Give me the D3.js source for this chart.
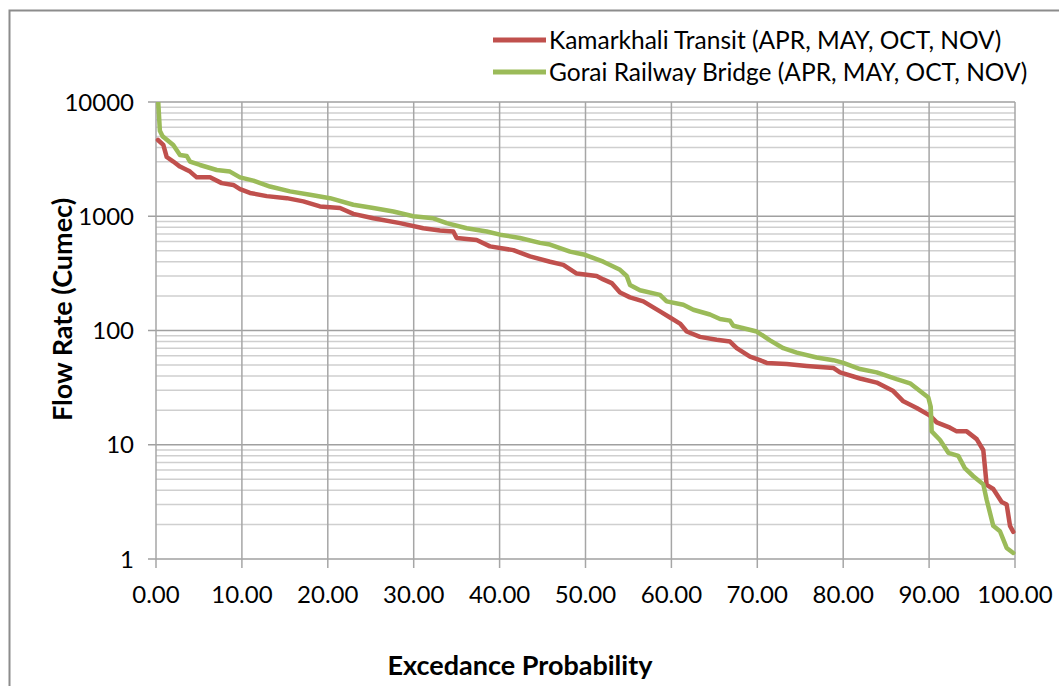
<!DOCTYPE html>
<html lang="en">
<head>
<meta charset="UTF-8">
<title>Flow Duration Curve</title>
<style>
    body { margin: 0; background: #fff; }
    text { font-family: Lato, "Open Sans", sans-serif; fill: #000; }
    .tick-label { font-size: 24px; }
    .axis-title { font-size: 27px; font-weight: bold; }
    .legend { font-size: 24.5px; }
</style>
<script src="https://d3js.org/d3.v7.min.js"></script>
</head>
<body>
<div id="chart"></div>
<script>
const seriesNames = [
    "Kamarkhali Transit (APR, MAY, OCT, NOV)",
    "Gorai Railway Bridge (APR, MAY, OCT, NOV)"
];
const seriesColors = ["#c0504d", "#9bbb59"];

// exceedance probability (%) and flow rate (cumec)
const kamarkhaliX = [0.23, 0.85, 1.25, 2.01, 2.79, 3.96, 4.74, 6.29, 7.65, 9.0, 9.78, 10.94, 12.89, 15.22, 17.15, 19.09, 21.42, 22.97, 25.3, 28.4, 31.12, 33.06, 34.61, 35.0, 37.33, 38.88, 41.6, 43.54, 45.87, 47.42, 48.98, 51.3, 52.07, 53.05, 54.02, 55.18, 56.73, 58.67, 59.84, 61.0, 61.78, 63.33, 65.27, 66.82, 67.6, 69.15, 70.31, 71.09, 73.42, 75.75, 78.85, 79.63, 81.96, 83.9, 85.83, 87.0, 88.56, 90.1, 90.88, 92.43, 93.21, 94.38, 95.54, 96.31, 96.7, 97.47, 98.45, 99.03, 99.42, 99.8];
const kamarkhaliY = [4650, 4210, 3300, 3010, 2720, 2460, 2190, 2190, 1950, 1880, 1730, 1600, 1500, 1440, 1350, 1220, 1180, 1050, 960, 870, 785, 750, 735, 645, 620, 545, 505, 445, 400, 375, 315, 300, 280, 260, 215, 195, 180, 147, 130, 115, 98, 88, 83, 80, 70, 59, 55, 52, 51, 49, 47, 43, 38, 35, 29.5, 24, 21, 18, 15.7, 14.1, 13.1, 13.1, 11.2, 8.95, 4.45, 4.1, 3.15, 3.0, 1.95, 1.73];

const goraiX = [0.2, 0.45, 0.78, 1.05, 2.01, 2.79, 3.57, 3.96, 5.12, 7.07, 8.61, 9.78, 11.33, 13.27, 15.6, 17.93, 20.26, 22.97, 25.3, 27.63, 29.95, 32.28, 33.84, 36.17, 38.5, 40.05, 42.37, 44.7, 45.87, 48.2, 49.94, 52.07, 54.02, 54.8, 55.18, 56.34, 58.67, 59.45, 61.39, 62.55, 64.49, 65.66, 66.82, 67.21, 69.93, 71.48, 73.03, 74.59, 76.91, 78.85, 80.01, 81.96, 83.9, 86.22, 87.78, 88.94, 89.91, 90.19, 90.3, 91.27, 92.24, 93.4, 94.18, 95.15, 96.31, 96.7, 97.47, 98.25, 99.03, 99.8];
const goraiY = [12000, 5600, 5000, 4820, 4200, 3440, 3370, 3010, 2810, 2540, 2460, 2190, 2050, 1820, 1650, 1540, 1440, 1260, 1180, 1100, 1000, 960, 870, 785, 735, 690, 645, 585, 565, 490, 460, 400, 340, 300, 250, 225, 205, 180, 168, 152, 138, 126, 122, 110, 98, 82, 70, 64, 58, 55, 52, 46, 43, 37.5, 34.5, 29.5, 25.9, 21.5, 13.1, 11.0, 8.5, 8.0, 6.2, 5.3, 4.5, 3.3, 1.95, 1.75, 1.25, 1.13];

const xTicks = [0, 10, 20, 30, 40, 50, 60, 70, 80, 90, 100];
const yTicks = [1, 10, 100, 1000, 10000];

const width = 1059, height = 686;
const margin = { top: 102, right: 44, bottom: 127, left: 156 };
const plotW = width - margin.left - margin.right;
const plotH = height - margin.top - margin.bottom;

const svg = d3.select("#chart").append("svg")
    .attr("width", width)
    .attr("height", height);

// chart frame
svg.append("rect")
    .attr("x", 9.5).attr("y", 10.5)
    .attr("width", 1100).attr("height", 800)
    .attr("fill", "none")
    .attr("stroke", "#8c8c8c")
    .attr("stroke-width", 2);

const x = d3.scaleLinear().domain([0, 100]).range([0, plotW]);
const y = d3.scaleLog().domain([1, 10000]).range([plotH, 0]);

const g = svg.append("g").attr("transform", `translate(${margin.left},${margin.top})`);

// minor horizontal grid
const minor = [];
yTicks.slice(0, -1).forEach(d => { for (let k = 2; k <= 9; k++) minor.push(d * k); });
g.selectAll(".minor").data(minor).join("line")
    .attr("x1", 0).attr("x2", plotW)
    .attr("y1", d => y(d)).attr("y2", d => y(d))
    .attr("stroke", "#cfcfcf").attr("stroke-width", 1.5);

// major horizontal grid
g.selectAll(".hmajor").data(yTicks).join("line")
    .attr("x1", -8).attr("x2", plotW)
    .attr("y1", d => y(d)).attr("y2", d => y(d))
    .attr("stroke", "#a0a0a0").attr("stroke-width", 1.5);

// vertical grid
g.selectAll(".vmajor").data(xTicks).join("line")
    .attr("x1", d => x(d)).attr("x2", d => x(d))
    .attr("y1", 0).attr("y2", plotH + 9)
    .attr("stroke", "#a6a6a6").attr("stroke-width", 1.5);

// tick labels
g.selectAll(".ylab").data(yTicks).join("text")
    .attr("class", "tick-label")
    .attr("x", -22).attr("y", d => y(d))
    .attr("dy", "0.36em")
    .attr("text-anchor", "end")
    .text(d => d);

g.selectAll(".xlab").data(xTicks).join("text")
    .attr("class", "tick-label")
    .attr("x", d => x(d)).attr("y", plotH + 44)
    .attr("text-anchor", "middle")
    .text(d => d.toFixed(2));

// axis titles
svg.append("text")
    .attr("class", "axis-title")
    .attr("transform", `translate(72,${margin.top + plotH / 2 - 21}) rotate(-90)`)
    .attr("text-anchor", "middle")
    .text("Flow Rate (Cumec)");

svg.append("text")
    .attr("class", "axis-title")
    .attr("x", 520).attr("y", 675)
    .attr("text-anchor", "middle")
    .text("Excedance Probability");

// series
const series = [
    kamarkhaliX.map((d, i) => [d, kamarkhaliY[i]]),
    goraiX.map((d, i) => [d, goraiY[i]])
];

svg.append("clipPath").attr("id", "clip")
    .append("rect").attr("width", plotW + 10).attr("height", plotH + 10).attr("x", -5).attr("y", 0);

const line = d3.line().x(d => x(d[0])).y(d => y(d[1]));

g.append("g").attr("clip-path", "url(#clip)")
    .selectAll("path").data(series).join("path")
    .attr("d", line)
    .attr("fill", "none")
    .attr("stroke", (d, i) => seriesColors[i])
    .attr("stroke-width", 4.5)
    .attr("stroke-linejoin", "round")
    .attr("stroke-linecap", "round");

// legend
const legend = svg.append("g").attr("class", "legend");
legend.selectAll("line").data(seriesNames).join("line")
    .attr("x1", 493).attr("x2", 546)
    .attr("y1", (d, i) => 40 + i * 32).attr("y2", (d, i) => 40 + i * 32)
    .attr("stroke", (d, i) => seriesColors[i])
    .attr("stroke-width", 5);
legend.selectAll("text").data(seriesNames).join("text")
    .attr("x", 549)
    .attr("y", (d, i) => 40 + i * 32)
    .attr("dy", "0.36em")
    .text(d => d);
</script>
</body>
</html>
